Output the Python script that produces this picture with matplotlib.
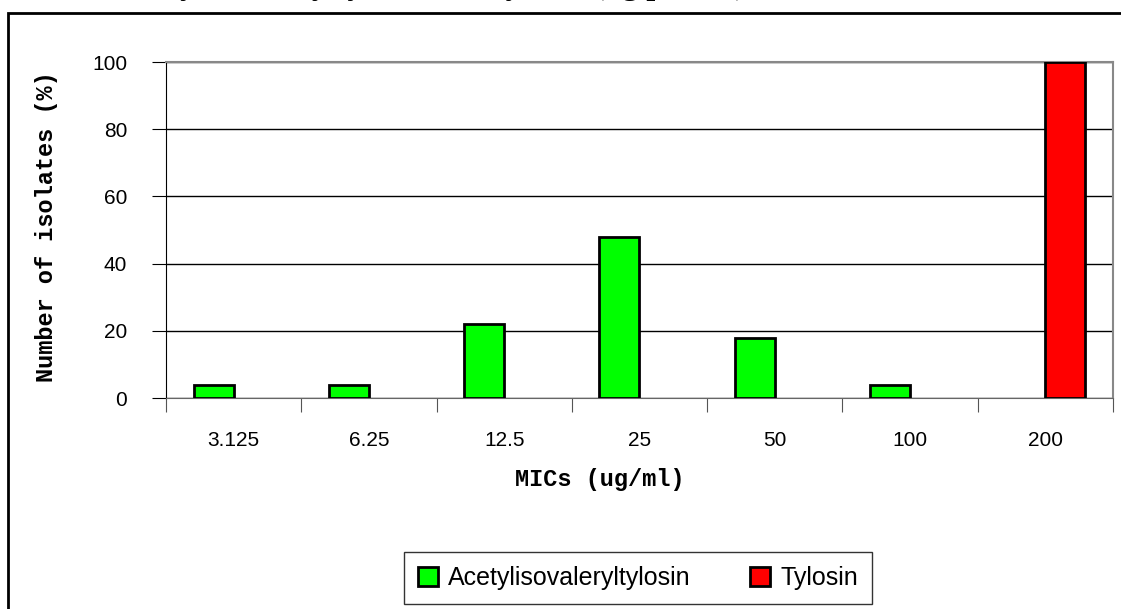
import matplotlib
matplotlib.use("Agg")
import matplotlib.pyplot as plt
import numpy as np
from matplotlib.patches import Rectangle

# dados
mics = ["3.125", "6.25", "12.5", "25", "50", "100", "200"]
acetil = [4, 4, 22, 48, 18, 4, 0]
tilosina = [0, 0, 0, 0, 0, 0, 100]
yticks = [0, 20, 40, 60, 80, 100]

fig = plt.figure(figsize=(11.21, 6.09), dpi=100)
ax = fig.add_axes([166 / 1121, 211 / 609, 947 / 1121, 336 / 609])

x = np.arange(len(mics))
larg = 0.296
# barras de valor zero nao aparecem no original
a = np.where(np.array(acetil) > 0, acetil, np.nan)
t = np.where(np.array(tilosina) > 0, tilosina, np.nan)
ax.bar(x - larg / 2, a, width=larg, color="#00ff00", edgecolor="black", linewidth=2,
       label="Acetylisovaleryltylosin", zorder=3)
ax.bar(x + larg / 2, t, width=larg, color="#ff0000", edgecolor="black", linewidth=2,
       label="Tylosin", zorder=3)

ax.set_xlim(-0.5, len(mics) - 0.5)
ax.set_ylim(0, 100)
ax.set_yticks(yticks)
ax.set_yticklabels([str(v) for v in yticks], fontsize=15, family="Liberation Sans")
ax.yaxis.grid(True, color="black", linewidth=1)
ax.set_axisbelow(True)

# ticks do eixo x nas fronteiras das categorias
ax.set_xticks(np.arange(len(mics) + 1) - 0.5)
ax.set_xticklabels([])
ax.set_xticks(x, minor=True)
ax.set_xticklabels(mics, minor=True, fontsize=15, family="Liberation Sans")
ax.tick_params(axis="x", which="minor", length=0, pad=24)
ax.tick_params(axis="x", which="major", length=10, direction="out", color="#555555")
ax.tick_params(axis="y", length=10, direction="out", pad=18)

for lado in ["top", "right"]:
    ax.spines[lado].set_color("#888888")
    ax.spines[lado].set_linewidth(1.5)
ax.spines["bottom"].set_color("#666666")
ax.spines["left"].set_color("black")

ax.set_ylabel("Number of isolates (%)", fontsize=17, fontweight="bold",
              family="Liberation Mono")
ax.yaxis.set_label_coords(-108 / 947, 0.51)
ax.set_xlabel("MICs (ug/ml)", fontsize=17, fontweight="bold", family="Liberation Mono")
ax.xaxis.set_label_coords((600 - 166) / 947, -70 / 336)

leg = ax.legend(loc="center", bbox_to_anchor=(638 / 1121, 31 / 609),
                bbox_transform=fig.transFigure, ncol=2, frameon=True, fancybox=False,
                edgecolor="black", handlelength=0.8, handleheight=0.8,
                handletextpad=0.4, columnspacing=2.4, borderpad=0.55,
                prop={"family": "Liberation Sans", "size": 18})
leg.get_frame().set_linewidth(1)

# borda externa do grafico
fig.patches.append(Rectangle((8 / 1121, -0.1), 1.2, (609 - 13) / 609 + 0.1,
                             transform=fig.transFigure, fill=False,
                             edgecolor="black", linewidth=2))

# titulo cortado no topo
fig.text(125 / 1121, 1 + 6 / 609, "acetylisovaleryltylosin and tylosin (ug per ml)",
         fontsize=23, fontweight="bold", family="Liberation Serif", va="baseline")

fig.savefig("out.png", dpi=100)
